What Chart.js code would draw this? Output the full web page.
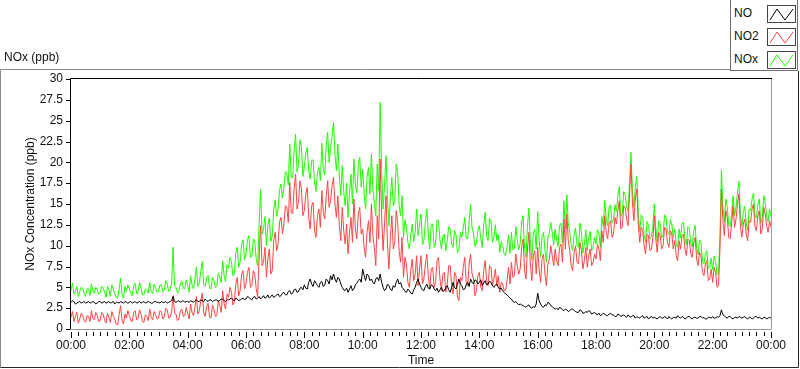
<!DOCTYPE html>
<html>
<head>
<meta charset="utf-8">
<script src="https://cdn.jsdelivr.net/npm/chart.js@4.4.1/dist/chart.umd.min.js"></script>
<style>
  html, body { margin: 0; padding: 0; background: #fff; }
  #wrap { position: relative; width: 800px; height: 369px; font-family: "Liberation Sans", Arial, sans-serif; }
  #plot { position: absolute; left: 0; top: 0; }
  .lbl { position: absolute; font-size: 12px; color: #111; white-space: nowrap; }
  #legend { position: absolute; left: 730px; top: -1px; width: 68px; height: 72px; border: 1px solid #6e6e6e; background: #fff; box-sizing: border-box; }
  #legend .row { position: absolute; left: 3px; height: 18px; width: 64px; }
  #legend .row span { position: absolute; left: 0; top: 1px; font-size: 12px; color: #111; }
  #legend svg { position: absolute; left: 33px; top: 0; }
</style>
</head>
<body>
<div id="wrap">
  <canvas id="plot" width="800" height="369"></canvas>
  <div class="lbl" style="left:4px; top:50px;">NOx (ppb)</div>
  <div id="legend">
    <div class="row" style="top:5px"><span>NO</span>
      <svg width="29" height="18"><rect x="0.5" y="0.5" width="28" height="17" fill="#fff" stroke="#444"/><polyline points="3,15 10,4 18,15 26,4" fill="none" stroke="#000" stroke-width="1"/></svg></div>
    <div class="row" style="top:28px"><span>NO2</span>
      <svg width="29" height="18"><rect x="0.5" y="0.5" width="28" height="17" fill="#fff" stroke="#444"/><polyline points="3,15 10,4 18,15 26,4" fill="none" stroke="#ff4545" stroke-width="1"/></svg></div>
    <div class="row" style="top:51px"><span>NOx</span>
      <svg width="29" height="18"><rect x="0.5" y="0.5" width="28" height="17" fill="#fff" stroke="#444"/><polyline points="3,15 10,4 18,15 26,4" fill="none" stroke="#1eff00" stroke-width="1"/></svg></div>
  </div>
</div>
<script>
// samples every 3 minutes from 00:00 to 24:00 (481 per series), one row = one hour
const STEP_MIN = 3;

const NO = [
  3.2,3.4,3.3,3.0,3.1,3.2,3.3,3.1,3.2,3.3,3.1,3.2,3.3,3.1,3.2,3.3,3.2,3.0,3.1,3.3,
  3.3,3.1,3.2,3.3,3.1,3.2,3.3,3.1,3.2,3.3,3.0,3.2,3.2,3.1,3.3,3.2,3.1,3.3,3.2,3.1,
  3.2,3.3,3.1,3.2,3.3,3.1,3.2,3.3,3.1,3.2,3.3,3.1,3.2,3.3,3.2,3.1,3.1,3.3,3.3,3.2,
  3.2,3.1,3.3,3.2,3.2,3.3,3.1,3.2,3.3,3.4,3.9,3.3,3.2,3.3,3.4,3.2,3.3,3.4,3.2,3.3,
  3.3,3.2,3.4,3.3,3.2,3.4,3.5,3.3,3.3,3.5,3.4,3.3,3.6,3.4,3.3,3.5,3.5,3.3,3.4,3.5,
  3.5,3.3,3.4,3.6,3.6,3.4,3.3,3.5,3.5,3.6,3.7,3.5,3.4,3.7,3.6,3.4,3.5,3.6,3.7,3.5,
  3.6,3.9,3.8,3.6,3.5,3.8,3.9,3.6,3.7,3.9,3.6,3.8,4.0,3.7,3.8,4.1,3.7,3.9,4.1,3.8,
  3.9,4.1,4.2,3.9,4.0,4.3,4.4,4.1,4.1,4.5,4.6,4.2,4.3,4.7,4.8,4.4,4.5,4.9,5.0,4.7,
  5.3,4.9,4.8,5.6,6.0,5.4,5.1,5.8,5.5,5.2,5.0,5.6,5.7,5.1,5.3,6.0,5.8,5.4,6.4,5.9,
  6.6,6.0,5.6,6.2,6.0,5.4,5.0,4.7,4.6,4.9,4.4,4.8,5.2,4.6,4.8,5.3,5.5,5.8,6.0,5.6,
  7.2,6.4,5.8,6.6,6.4,5.8,6.0,5.6,5.4,6.0,6.2,5.8,6.6,5.6,5.0,4.6,4.8,5.4,5.2,4.8,
  4.6,5.2,5.0,5.6,6.0,5.4,5.6,5.0,4.8,4.5,4.4,4.8,4.6,4.3,4.2,4.7,5.0,5.6,6.0,5.4,
  5.0,4.7,4.6,5.1,5.4,4.9,4.8,5.3,5.2,4.8,4.6,4.9,4.4,4.7,5.0,4.5,4.6,5.0,5.2,4.7,
  4.4,5.0,5.6,5.0,4.8,5.4,6.0,5.4,5.2,4.7,4.8,5.3,5.6,5.1,6.0,5.6,5.4,5.9,5.8,5.4,
  5.6,5.9,5.2,5.5,5.8,5.3,5.4,5.7,5.6,5.2,5.0,5.3,5.4,5.0,4.8,4.9,4.6,4.4,4.2,4.1,
  3.9,3.7,3.6,3.3,3.2,3.3,3.1,2.9,3.0,2.9,2.8,2.7,2.6,2.8,2.9,2.6,2.5,2.7,2.6,3.0,
  4.3,3.4,3.0,2.7,2.6,2.9,2.8,3.2,3.1,2.8,2.7,2.5,2.4,2.5,2.3,2.6,2.5,2.3,2.2,2.4,
  2.3,2.1,2.2,2.4,2.4,2.2,2.1,2.0,2.0,2.3,2.2,1.9,1.9,2.1,2.0,2.2,2.1,1.8,1.9,2.0,
  1.8,1.7,1.9,1.6,1.7,1.9,1.8,1.6,1.6,1.8,1.9,1.7,1.7,1.5,1.5,1.8,1.7,1.5,1.6,1.7,
  1.5,1.4,1.7,1.5,1.4,1.6,1.6,1.3,1.5,1.4,1.3,1.5,1.6,1.3,1.4,1.5,1.2,1.4,1.5,1.3,
  1.4,1.3,1.2,1.4,1.5,1.3,1.3,1.5,1.4,1.2,1.5,1.3,1.2,1.4,1.4,1.3,1.6,1.4,1.3,1.5,
  1.4,1.2,1.3,1.5,1.5,1.3,1.2,1.4,1.4,1.3,1.3,1.5,1.5,1.3,1.4,1.2,1.2,1.4,1.4,1.3,
  1.5,1.3,1.3,1.5,1.4,1.6,2.3,1.7,1.6,1.4,1.3,1.5,1.5,1.3,1.2,1.4,1.4,1.3,1.5,1.4,
  1.3,1.4,1.5,1.3,1.2,1.4,1.4,1.2,1.3,1.5,1.5,1.3,1.4,1.3,1.2,1.4,1.4,1.2,1.3,1.4,
  1.3
];

const NO2 = [
  1.4,2.1,0.9,1.5,2.0,0.7,1.2,1.9,1.7,1.0,0.8,1.6,1.5,0.9,2.2,1.3,1.1,2.0,1.6,0.9,
  1.0,2.0,1.8,1.1,0.7,1.9,1.4,0.8,2.1,1.5,1.2,0.6,0.5,1.7,2.8,1.0,0.6,1.8,1.3,2.2,
  1.6,1.0,0.9,2.0,2.2,1.1,1.3,2.3,1.8,0.9,0.8,1.7,1.5,1.0,2.4,1.4,1.1,2.1,1.7,1.2,
  1.3,2.2,2.0,1.2,1.5,2.5,2.3,1.3,1.4,2.1,4.0,1.9,1.8,1.0,1.2,2.2,2.4,1.5,1.6,2.6,
  1.9,1.2,3.0,2.0,1.6,2.6,3.9,1.8,2.2,3.4,4.3,2.0,1.5,2.7,3.1,1.4,1.3,2.9,2.4,1.5,
  1.6,3.4,2.8,2.0,4.6,3.0,2.4,4.2,3.8,5.0,4.4,2.9,3.2,5.4,6.2,4.0,4.6,6.6,7.0,4.8,
  5.4,6.8,7.4,5.0,5.2,7.0,6.6,4.8,3.9,8.8,12.4,7.6,8.0,9.8,6.2,8.4,9.6,6.6,7.0,10.6,
  11.6,9.4,10.2,12.8,13.4,11.4,12.6,14.8,14.6,12.8,17.6,14.0,13.8,16.8,18.6,14.4,15.2,17.8,16.8,13.6,
  14.2,16.2,17.0,13.4,12.0,14.8,15.2,11.8,11.0,13.6,14.4,12.2,16.6,14.0,13.2,16.0,17.8,14.6,15.4,17.2,
  18.2,15.0,13.4,16.0,12.4,10.6,14.6,11.8,10.2,12.6,9.0,11.6,13.4,10.4,15.6,12.0,10.8,13.8,14.6,11.4,
  12.0,9.8,8.6,11.6,13.0,10.4,15.0,11.2,9.8,7.6,13.6,10.8,20.4,13.4,9.4,12.6,16.0,10.2,7.2,11.0,
  13.6,9.6,10.4,14.2,12.8,9.4,8.0,11.0,6.2,8.6,7.8,5.6,5.0,7.0,8.4,5.8,6.6,8.8,5.2,7.2,
  8.8,5.4,6.0,7.8,9.0,6.4,4.8,7.2,7.4,5.0,5.6,8.2,8.6,6.0,4.6,6.6,6.8,4.4,5.4,7.6,
  7.6,5.2,4.2,6.8,6.4,3.8,3.4,6.2,5.8,7.4,8.6,5.6,5.2,7.8,9.0,6.6,6.0,4.0,4.6,6.4,
  6.8,5.0,4.6,7.0,8.2,5.8,5.2,7.6,7.4,5.2,6.0,7.2,5.2,6.4,4.4,5.6,5.4,4.6,4.6,5.8,
  7.4,5.4,8.0,6.2,6.4,9.0,7.6,6.6,7.2,9.8,10.8,7.0,6.0,9.6,11.6,7.8,5.8,8.8,9.4,6.6,
  9.8,7.2,5.6,8.4,9.0,6.6,5.2,7.8,8.4,10.0,8.8,7.6,9.6,8.2,7.6,9.8,10.2,8.0,13.2,9.6,
  13.8,10.6,9.4,7.6,7.0,9.2,10.0,8.0,7.8,10.4,9.4,7.2,8.2,9.8,7.4,8.8,9.6,7.6,8.0,9.0,
  8.4,10.2,9.6,8.2,11.8,10.4,13.6,11.6,10.8,12.8,13.0,11.0,11.4,13.4,12.6,14.2,15.4,12.0,12.2,14.8,
  14.6,13.2,12.4,16.2,19.8,15.0,13.0,15.8,16.8,12.6,10.4,12.2,11.8,10.0,9.0,11.4,11.2,9.4,9.6,11.0,
  13.6,10.8,9.2,11.6,11.2,9.6,10.0,12.2,12.0,10.4,9.8,11.8,11.4,9.6,10.6,8.8,8.2,10.6,9.6,11.2,
  11.4,9.6,8.8,10.8,10.6,9.0,8.6,10.4,11.0,8.4,7.6,9.2,8.8,6.8,6.4,7.8,8.2,5.8,6.0,7.2,
  5.6,7.4,6.8,5.0,5.2,9.6,16.8,13.0,11.2,14.2,13.4,11.0,10.8,12.6,14.8,12.2,13.2,15.0,16.2,12.4,
  11.0,12.6,13.2,11.4,10.6,13.0,12.8,14.4,15.0,12.2,11.8,13.6,14.2,11.4,12.0,14.6,13.8,12.4,11.6,13.0,
  12.2
];

const NOX = [
  4.6,5.5,4.2,4.5,5.1,3.9,4.5,5.0,4.9,4.3,3.9,4.8,4.8,4.0,5.4,4.6,4.3,5.0,4.7,4.2,
  4.3,5.1,5.0,4.4,3.8,5.1,4.7,3.9,5.3,4.8,4.2,3.8,3.7,4.8,6.1,4.2,3.7,5.1,4.5,5.3,
  4.8,4.3,4.0,5.2,5.5,4.2,4.5,5.6,4.9,4.1,4.1,4.8,4.7,4.3,5.6,4.5,4.2,5.4,5.0,4.4,
  4.5,5.3,5.3,4.4,4.7,5.8,5.4,4.5,4.7,5.5,9.8,5.2,5.0,4.3,4.6,5.4,5.7,4.9,4.8,5.9,
  5.2,4.4,6.4,5.3,4.8,6.0,7.4,5.1,5.5,6.9,8.1,5.3,5.1,6.1,6.4,4.9,4.8,6.2,5.8,5.0,
  5.1,6.7,6.2,5.6,8.2,6.4,5.7,7.7,7.3,8.6,8.1,6.4,6.6,9.1,9.8,7.4,8.1,10.2,10.7,8.3,
  9.0,10.7,11.2,8.6,8.7,10.8,10.5,8.4,7.6,12.7,16.8,11.4,12.0,13.5,10.0,12.5,13.3,10.5,11.1,14.4,
  15.5,13.5,14.4,16.7,17.4,15.7,17.0,18.9,18.7,17.3,22.2,18.2,18.1,21.5,23.4,18.8,19.7,22.7,21.8,18.3,
  19.5,21.1,21.8,19.0,18.0,20.2,20.3,17.6,16.5,18.8,19.4,17.8,22.3,19.1,18.5,22.0,23.6,20.0,21.8,23.1,
  24.8,21.0,19.0,22.2,18.4,16.0,19.6,16.5,14.8,17.5,13.4,16.4,18.6,15.0,20.4,17.3,16.3,19.6,20.6,17.0,
  19.2,16.2,14.4,18.2,19.4,16.2,21.0,16.8,15.2,13.6,19.8,16.6,27.2,19.0,14.4,17.2,20.8,15.6,12.4,15.8,
  18.2,14.8,15.4,19.8,18.8,14.8,13.6,16.0,11.0,13.1,12.2,10.4,9.6,11.3,12.6,10.5,11.6,14.4,11.2,12.6,
  13.8,10.1,10.6,12.9,14.4,11.3,9.6,12.5,12.6,9.8,10.2,13.1,13.0,10.7,9.6,11.1,11.4,9.4,10.6,12.3,
  12.0,10.2,9.8,11.8,11.2,9.2,9.4,11.6,11.0,12.1,13.4,10.9,10.8,12.9,15.0,12.2,11.4,9.9,10.4,11.8,
  12.4,10.9,9.8,12.5,14.0,11.1,10.6,13.3,13.0,10.4,11.0,12.5,10.6,11.4,9.2,10.5,10.0,9.0,8.8,9.9,
  11.3,9.1,11.6,9.5,9.6,12.3,10.7,9.5,10.2,12.7,13.6,9.7,8.6,12.4,14.5,10.4,8.3,11.5,12.0,9.6,
  14.1,10.6,8.6,11.1,11.6,9.5,8.0,11.0,11.5,12.8,11.5,10.1,12.0,10.7,9.9,12.4,12.7,10.3,15.4,12.0,
  16.1,12.7,11.6,10.0,9.4,11.4,12.1,10.0,9.8,12.7,11.6,9.1,10.1,11.9,9.4,11.0,11.7,9.4,9.9,11.0,
  10.2,11.9,11.5,9.8,13.5,12.3,15.4,13.2,12.4,14.6,14.9,12.7,13.1,14.9,14.1,16.0,17.1,13.5,13.8,16.5,
  16.1,14.6,14.1,17.7,21.2,16.6,14.6,17.1,18.3,14.0,11.7,13.7,13.4,11.3,10.4,12.9,12.4,10.8,11.1,12.3,
  15.0,12.1,10.4,13.0,12.7,10.9,11.3,13.7,13.4,11.6,11.3,13.1,12.6,11.0,12.0,10.1,9.8,12.0,10.9,12.7,
  12.8,10.8,10.1,12.3,12.1,10.3,9.8,11.8,12.4,9.7,8.9,10.7,10.3,8.1,7.8,9.0,9.4,7.2,7.4,8.5,
  7.1,8.7,8.1,6.5,6.6,11.2,19.1,14.7,12.8,15.6,14.7,12.5,12.3,13.9,16.0,13.6,14.6,16.3,17.7,13.8,
  12.3,14.0,14.7,12.7,11.8,14.4,14.2,15.6,16.3,13.7,13.3,14.9,15.6,12.7,13.2,16.0,15.2,13.6,12.9,14.4,
  13.5
];

const Y_MIN = 0, Y_MAX = 30, Y_STEP = 2.5;
const X_MIN = 0, X_MAX = 1440, X_MAJOR = 120, X_MINOR = 15;

const FONT = { family: '"Liberation Sans", Arial, sans-serif', size: 12 };
const TEXT = '#111';

function toPoints(arr) {
  return arr.map((v, i) => ({ x: i * STEP_MIN, y: v }));
}

function hhmm(v) {
  const h = Math.floor(v / 60) % 24;
  const m = v % 60;
  return String(h).padStart(2, '0') + ':' + String(m).padStart(2, '0');
}

// LabVIEW-ish frame, plot border and tick marks
const framePlugin = {
  id: 'frame',
  beforeDraw(chart) {
    const c = chart.ctx;
    c.save();
    c.fillStyle = '#fff';
    c.fillRect(0, 0, chart.width, chart.height);
    c.restore();
  },
  afterDraw(chart) {
    const c = chart.ctx;
    const a = chart.chartArea;
    const xs = chart.scales.x, ys = chart.scales.y;
    c.save();
    c.lineWidth = 1;

    // outer panel frame
    c.strokeStyle = '#8a8a8a';
    c.beginPath();
    c.moveTo(0.5, 367.5); c.lineTo(0.5, 69.5); c.lineTo(730, 69.5);
    c.stroke();
    c.strokeStyle = '#2a2a2a';
    c.beginPath();
    c.moveTo(0.5, 367.5); c.lineTo(798.5, 367.5); c.lineTo(798.5, 71);
    c.stroke();

    // plot border: dark top/left, grey bottom/right
    c.strokeStyle = '#000';
    c.beginPath();
    c.moveTo(a.left - 0.5, a.bottom); c.lineTo(a.left - 0.5, a.top - 0.5); c.lineTo(a.right + 1, a.top - 0.5);
    c.stroke();
    c.strokeStyle = '#9a9a9a';
    c.beginPath();
    c.moveTo(a.left - 1, a.bottom + 0.5); c.lineTo(a.right + 0.5, a.bottom + 0.5); c.lineTo(a.right + 0.5, a.top);
    c.stroke();

    // tick marks
    c.strokeStyle = '#000';
    c.beginPath();
    xs.ticks.forEach(t => {
      const px = Math.round(xs.getPixelForValue(t.value)) + 0.5;
      const len = t.value % X_MAJOR === 0 ? 6 : 4;
      c.moveTo(px, a.bottom + 3); c.lineTo(px, a.bottom + 3 + len);
    });
    ys.ticks.forEach(t => {
      const py = Math.round(ys.getPixelForValue(t.value)) + 0.5;
      c.moveTo(a.left - 5, py); c.lineTo(a.left - 1, py);
    });
    c.stroke();
    c.restore();
  }
};

new Chart(document.getElementById('plot'), {
  type: 'line',
  data: {
    datasets: [
      { label: 'NO', data: toPoints(NO), borderColor: '#000000', order: 1 },
      { label: 'NO2', data: toPoints(NO2), borderColor: '#ff4545', order: 2 },
      { label: 'NOx', data: toPoints(NOX), borderColor: '#1eff00', order: 3 }
    ]
  },
  options: {
    responsive: false,
    animation: false,
    events: [],
    elements: {
      line: { borderWidth: 1, tension: 0, fill: false },
      point: { radius: 0 }
    },
    layout: { padding: { left: 0, top: 79, right: 29, bottom: 0 } },
    plugins: { legend: { display: false }, tooltip: { enabled: false } },
    scales: {
      x: {
        type: 'linear',
        min: X_MIN, max: X_MAX,
        afterFit: s => { s.height = 40; },
        border: { display: false },
        grid: { display: true, drawOnChartArea: false, drawTicks: true, tickLength: 6, color: 'rgba(0,0,0,0)' },
        ticks: {
          stepSize: X_MINOR, autoSkip: false, maxTicksLimit: 200, maxRotation: 0,
          padding: 3, color: TEXT, font: FONT,
          callback: v => (v % X_MAJOR === 0 ? hhmm(v) : '')
        },
        title: { display: true, text: 'Time', color: TEXT, font: FONT, padding: { top: 0, bottom: 1 } }
      },
      y: {
        min: Y_MIN, max: Y_MAX,
        afterFit: s => { s.width = 71; },
        border: { display: false },
        grid: { display: true, drawOnChartArea: false, drawTicks: true, tickLength: 4, color: 'rgba(0,0,0,0)' },
        ticks: { stepSize: Y_STEP, padding: 4, color: TEXT, font: FONT },
        title: { display: true, text: 'NOx Concentration (ppb)', color: TEXT, font: FONT, padding: { top: 23, bottom: 0 } }
      }
    }
  },
  plugins: [framePlugin]
});
</script>
</body>
</html>
